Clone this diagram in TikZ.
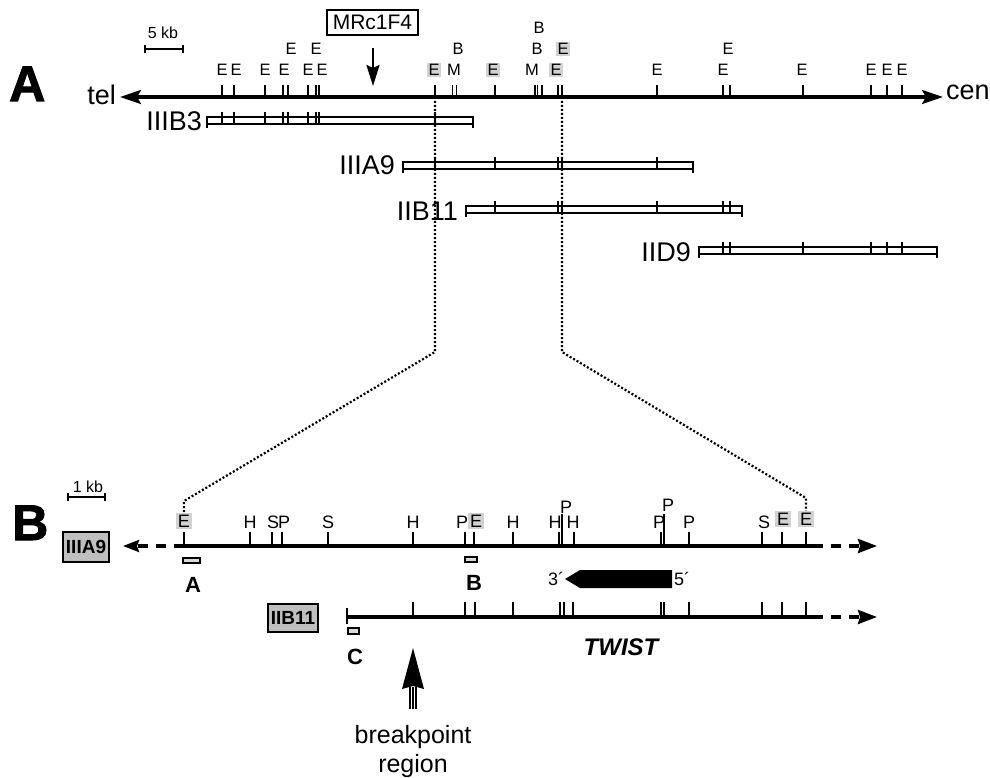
\documentclass[tikz,border=0pt]{standalone}
\usepackage{fontspec}
\setmainfont{Liberation Sans}
\newfontfamily\heavyfont{Liberation Sans Bold}[FakeBold=2]
\usetikzlibrary{arrows.meta}
\tikzset{
  tk/.style={line width=1.4pt},
  lbl/.style={font=\fontsize{16.5}{18}\selectfont, inner sep=0.5pt},
  blbl/.style={font=\fontsize{18}{20}\selectfont, inner sep=0.5pt},
  hl/.style={fill=gray!35, inner sep=1.8pt},
  clonebox/.style={line width=1.4pt},
  clonelbl/.style={font=\fontsize{27}{29}\selectfont, anchor=base east, inner sep=0pt},
  chrom/.style={line width=3.2pt},
  dots/.style={line width=2.2pt, dash pattern=on 2pt off 2pt},
  biglbl/.style={font=\heavyfont\fontsize{50}{50}\selectfont, anchor=base west, inner sep=0pt},
  probe/.style={fill=gray!30, draw=black, line width=1.2pt},
  probelbl/.style={font=\bfseries\fontsize{22}{24}\selectfont, anchor=base, inner sep=0pt},
  graybox/.style={fill=gray!50, draw=black, line width=1.2pt, font=\bfseries\fontsize{19}{20}\selectfont, inner sep=0pt},
  txt/.style={font=\fontsize{25}{27}\selectfont, inner sep=0pt},
}
\newcommand\clonebar[4]{%
  \draw[clonebox] (#1,#3) rectangle (#2,#3+7);
  \draw[clonebox] (#1,#3) -- (#1,#3+11) (#2,#3) -- (#2,#3+11);
  \foreach \t in {#4} \draw[tk] (\t,#3-5) -- (\t,#3+7);
}
\begin{document}
\begin{tikzpicture}[x=1pt,y=-1pt]
\useasboundingbox (0,0) rectangle (990,778);

% ---------------- Part A ----------------
\node[biglbl] (bigA) at (9,101) {A};

% scale bar 5 kb
\coordinate (sb1) at (145,49);
\coordinate (sb2) at (183,49);
\draw[line width=1.4pt] (sb1) -- (sb2);
\draw[line width=1.4pt] ([yshift=-4pt]sb1) -- ([yshift=4pt]sb1) ([yshift=-4pt]sb2) -- ([yshift=4pt]sb2);
\node[font=\fontsize{16}{18}\selectfont, inner sep=0pt] (sbt) at (163,33) {5 kb};

% MRc1F4
\node[draw, line width=1.4pt, minimum width=91pt, minimum height=25pt, inner sep=0pt,
      font=\fontsize{21}{23}\selectfont] (mrc) at (372.5,22.5) {MRc1F4};
\coordinate (mrcA) at (373,48);
\coordinate (mrcB) at (373,86);
\draw[line width=2.4pt, -{Stealth[length=21pt,width=13pt,inset=3pt]}] (mrcA) -- (mrcB);

% main chromosome line
\coordinate (telend) at (120,97);
\coordinate (cenend) at (943,97);
\draw[chrom, {Stealth[length=21pt,width=14pt,inset=4pt]}-{Stealth[length=21pt,width=14pt,inset=4pt]}] (telend) -- (cenend);
\node[txt, font=\fontsize{27}{29}\selectfont, anchor=base east] (tel) at (116,105) {tel};
\node[txt, font=\fontsize{27}{29}\selectfont, anchor=base west] (cen) at (946,100) {cen};

% ticks
\foreach \x in {222,234,265,283,288,308,316,319,435,452.7,456.7,495,535,537.5,542,558,562,657,723,730,803,871,887,902}
  \draw[tk] (\x,85) -- (\x,97);

% labels
\foreach \x/\y/\t [count=\i] in {222/70/E,236/70/E,265/70/E,284/70/E,291/49/E,308/70/E,316/49/E,322/70/E,
   454/70/M,458/49/B,532/70/M,537/49/B,539/28/B,657/70/E,723/70/E,728/49/E,802/70/E,871/70/E,887/70/E,902/70/E}
  \node[lbl] (ta\i) at (\x,\y) {\t};
\foreach \x/\y [count=\i] in {434/70,493/70,556/70,563/49}
  \node[lbl,hl] (th\i) at (\x,\y) {E};

% clones
\clonebar{207}{473}{117}{222,234,265,283,288,308,316,319,435}
\node[clonelbl] (cIIIB3) at (202,131) {IIIB3};
\clonebar{403}{693}{162}{435,495,558,562,657}
\node[clonelbl] (cIIIA9) at (395,175) {IIIA9};
\clonebar{466}{742}{206}{495,558,562,657,723,730}
\node[clonelbl] (cIIB11) at (458,220) {IIB11};
\clonebar{699}{937}{247}{723,730,803,871,887,902}
\node[clonelbl] (cIID9) at (691,261) {IID9};

% ---------------- Part B ----------------
\node[biglbl] (bigB) at (12,540) {B};

% scale bar 1 kb
\coordinate (kb1) at (68,497);
\coordinate (kb2) at (105,497);
\draw[line width=1.4pt] (kb1) -- (kb2);
\draw[line width=1.4pt] ([yshift=-4pt]kb1) -- ([yshift=4pt]kb1) ([yshift=-4pt]kb2) -- ([yshift=4pt]kb2);
\node[font=\fontsize{16}{18}\selectfont, inner sep=0pt] (kbt) at (88,487) {1 kb};

% IIIA9 line
\node[graybox, minimum width=46pt, minimum height=30pt] (gIIIA9) at (86,547) {IIIA9};
\coordinate (l1a) at (184,546);
\coordinate (l1b) at (813,546);
\coordinate (l1l) at (123,546);
\coordinate (l1r) at (877,546);
\draw[chrom] (l1a) -- (l1b);
\draw[chrom, dash pattern=on 10pt off 8pt, -{Stealth[length=16pt,width=12pt,inset=2pt]}] (l1a) -- (l1l);
\draw[chrom, dash pattern=on 10pt off 8pt, -{Stealth[length=19pt,width=14pt,inset=2pt]}] (l1b) -- (l1r);
\foreach \x in {184,250,272,282,328,413,465,474,513,559,574,661,689,762,782,806}
  \draw[tk] (\x,532) -- (\x,546);
\foreach \x in {562,664}
  \draw[tk] (\x,514) -- (\x,546);
\foreach \x/\y/\t [count=\i] in {250/522/H,273/522/S,284/522/P,328/522/S,413/522/H,462/522/P,513/522/H,
   555/522/H,566/507/P,573/522/H,659/522/P,668/505/P,689/522/P,764/522/S}
  \node[blbl] (tb\i) at (\x,\y) {\t};
\foreach \x/\y [count=\i] in {184/521,476/521,783/519,806/519}
  \node[blbl,hl] (hb\i) at (\x,\y) {E};

% probes
\draw[probe] (183,558) rectangle (200,563);
\node[probelbl] (pA) at (193,592) {A};
\draw[probe] (465,557) rectangle (477,562);
\node[probelbl] (pB) at (474,590) {B};
\draw[probe] (348,628) rectangle (359,634);
\node[probelbl] (pC) at (355,664) {C};

% TWIST gene arrow
\fill (565,579) -- (580,570) -- (672,570) -- (672,588) -- (580,588) -- cycle;
\node[font=\fontsize{18}{20}\selectfont, inner sep=0pt] (p3) at (556,579) {3´};
\node[font=\fontsize{18}{20}\selectfont, inner sep=0pt] (p5) at (682,579) {5´};
\node[font=\bfseries\itshape\fontsize{24}{26}\selectfont, anchor=base, inner sep=0pt] (twist) at (621,655) {TWIST};

% IIB11 line
\node[graybox, minimum width=50pt, minimum height=28pt] (gIIB11) at (293,618) {IIB11};
\coordinate (l2a) at (347,617);
\coordinate (l2b) at (813,617);
\coordinate (l2r) at (877,617);
\draw[chrom] (l2a) -- (l2b);
\draw[chrom, dash pattern=on 10pt off 8pt, -{Stealth[length=19pt,width=14pt,inset=2pt]}] (l2b) -- (l2r);
\draw[tk] (347,608) -- (347,624);
\foreach \x in {413,465,475,513,560,564,573,661,664,689,762,782,806}
  \draw[tk] (\x,602) -- (\x,617);

% breakpoint arrow
\coordinate (bpTip) at (413,648);
\fill (bpTip) -- (424,689) -- (413,686) -- (402,689) -- cycle;
\foreach \dx in {-3,0,3}
  \draw[line width=1.2pt] (413+\dx,687) -- (413+\dx,709);
\node[txt] (bp1) at (413,737) {breakpoint};
\node[txt] (bp2) at (413,766) {region};

% dotted zoom lines
\coordinate (dl0) at (435,97);
\coordinate (dl1) at (435,352);
\coordinate (dl2) at (184,501);
\coordinate (dr0) at (562,97);
\coordinate (dr1) at (562,352);
\coordinate (dr2) at (806,498);
\draw[dots] (dl0) -- (dl1) -- (dl2) -- (hb1.north);
\draw[dots] (dr0) -- (dr1) -- (dr2) -- (hb4.north);
\end{tikzpicture}
\end{document}
